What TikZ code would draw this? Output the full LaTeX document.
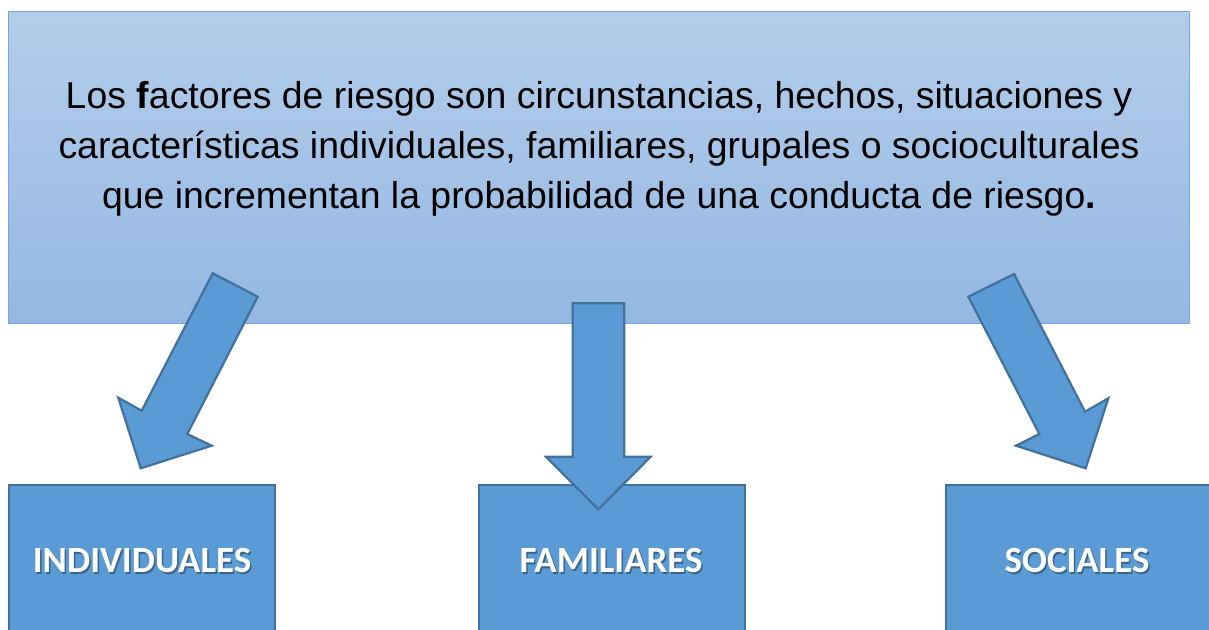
\documentclass[tikz,border=0pt]{standalone}
\usepackage{fontspec}
\setmainfont{Liberation Sans}
\newfontfamily\calfont{Carlito}
\definecolor{topA}{RGB}{180,205,234}
\definecolor{topB}{RGB}{148,184,227}
\definecolor{topline}{RGB}{120,165,218}
\definecolor{blk}{RGB}{91,155,213}
\definecolor{blkline}{RGB}{65,113,156}
\begin{document}
\begin{tikzpicture}[x=1pt,y=-1pt,
  topbox/.style={draw=topline,line width=1.2pt,top color=topA,bottom color=topB,
    minimum width=1181pt,minimum height=312pt,inner sep=0pt,anchor=north west},
  catbox/.style={draw=blkline,line width=2pt,fill=blk,minimum width=266pt,
    minimum height=170pt,inner sep=0pt,anchor=north west},
  blockarrow/.style={draw=blkline,line width=2.2pt,fill=blk,line join=miter},
  label/.style={font=\calfont\bfseries\fontsize{36.9}{42}\selectfont,text=white,inner sep=0pt,anchor=base}
]
\useasboundingbox (0,0) rectangle (1209,629);
\clip (0,0) rectangle (1209,629);
% main box
\node[topbox] (def) at (8,11) {};
\node[font=\fontsize{37.4}{50}\selectfont,align=center,anchor=base,inner sep=0pt] (deftext) at (599,208)
  {Los \textbf{f}actores de riesgo son circunstancias, hechos, situaciones y\\
   características individuales, familiares, grupales o socioculturales\\
   que incrementan la probabilidad de una conducta de riesgo\textbf{.}};
% category boxes
\node[catbox] (ind) at (8,484) {};
\node[catbox] (fam) at (478,484) {};
\node[catbox] (soc) at (945,484) {};
% labels with shadow
\foreach \n/\t/\xx in {indl/INDIVIDUALES/142, faml/FAMILIARES/611, socl/SOCIALES/1077}{
  \node[label,text=black,opacity=0.35] at (\xx+1.5,572+2) {\t};
  \node[label] (\n) at (\xx,572) {\t};
}
% block arrows
\draw[blockarrow] (212.7,273.3) -- (257.7,296.7) -- (187.3,434) -- (211.7,445.7)
  -- (140.7,468.3) -- (118.3,397.7) -- (141.7,410.7) -- cycle;
\draw[blockarrow] (572.7,303.3) -- (624.3,303.3) -- (624.3,456.7) -- (650.7,456.7)
  -- (598.3,509.3) -- (546,456.7) -- (572.7,456.7) -- cycle;
\draw[blockarrow] (968.3,296.7) -- (1014,274) -- (1085,411.7) -- (1108.3,398.3)
  -- (1085.7,468.3) -- (1016,445.7) -- (1039.3,434) -- cycle;
\end{tikzpicture}
\end{document}
